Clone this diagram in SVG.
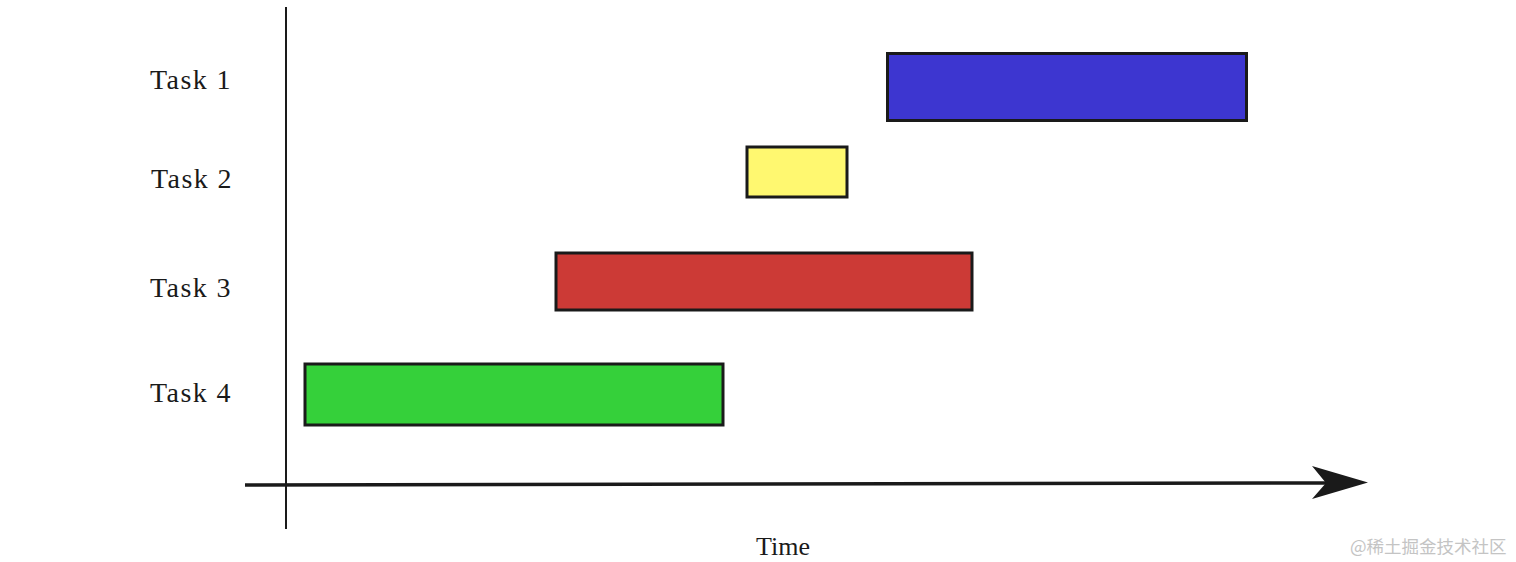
<svg xmlns="http://www.w3.org/2000/svg" width="1516" height="562" viewBox="0 0 1516 562">
<style>
.lbl{font-family:"Liberation Serif","DejaVu Serif",serif;font-size:28px;fill:#1a1a1a;letter-spacing:1.4px}
.bar{stroke:#1a1a1a;stroke-width:3}
.axis{stroke:#1a1a1a;fill:none}
.wm{font-family:"Noto Sans CJK SC","Noto Sans",sans-serif;font-size:17.5px;fill:#c4c4c4}
</style>
<rect width="1516" height="562" fill="#ffffff"/>
<g id="connectors">
<line class="axis" x1="286" y1="7" x2="286" y2="529" stroke-width="2"/>
<line class="axis" x1="245" y1="485" x2="1330" y2="483" stroke-width="3.5"/>
<polygon points="1312,466 1368,482.5 1312,499 1326,483" fill="#1a1a1a"/>
</g>
<g id="task1"><text class="lbl" x="150" y="89">Task 1</text><rect class="bar" x="887.5" y="53.5" width="359" height="67" fill="#3d36d0"/></g>
<g id="task2"><text class="lbl" x="151" y="188">Task 2</text><rect class="bar" x="747" y="147" width="100" height="50" fill="#fff870"/></g>
<g id="task3"><text class="lbl" x="150" y="297">Task 3</text><rect class="bar" x="556" y="253" width="416" height="57" fill="#cc3a36"/></g>
<g id="task4"><text class="lbl" x="150" y="402">Task 4</text><rect class="bar" x="305" y="364" width="418" height="61" fill="#35d03a"/></g>
<g id="time"><text class="lbl" x="756" y="555" style="font-size:26px;letter-spacing:0">Time</text></g>
<text class="wm" x="1350" y="553">@稀土掘金技术社区</text>
</svg>
